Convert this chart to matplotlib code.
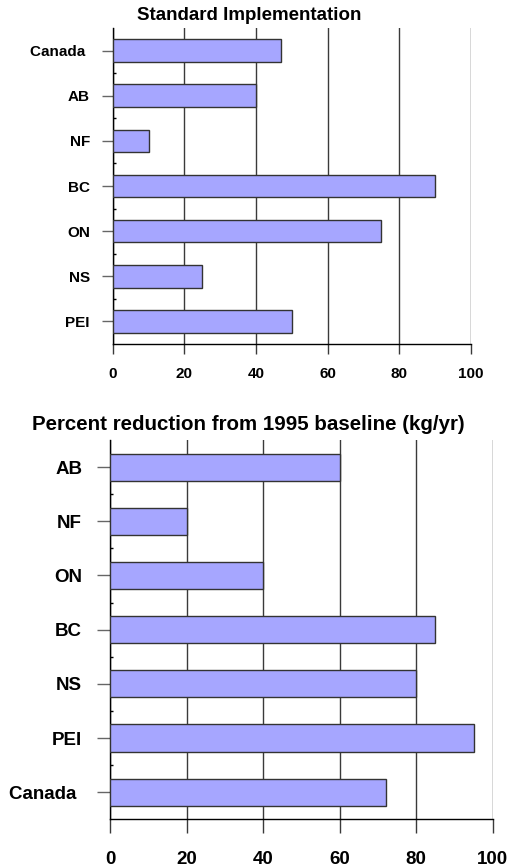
import matplotlib
matplotlib.use("Agg")
import matplotlib.pyplot as plt
import numpy as np

top_title = "Standard Implementation"
top_categories = ["Canada ", "AB", "NF", "BC", "ON", "NS", "PEI"]
top_values = [47, 40, 10, 90, 75, 25, 50]

bot_title = "Percent reduction from 1995 baseline (kg/yr)"
bot_categories = ["AB", "NF", "ON", "BC", "NS", "PEI", "Canada "]
bot_values = [60, 20, 40, 85, 80, 95, 72]

x_ticks = [0, 20, 40, 60, 80, 100]

plt.rcParams['font.family'] = ['Liberation Sans', 'DejaVu Sans']
plt.rcParams['font.weight'] = 'bold'

W, H = 509, 866
fig = plt.figure(figsize=(W / 100, H / 100), dpi=100)

BAR = '#a6a6ff'
EDGE = '#333333'
GRID = '#3a3a3a'


def draw(ax, cats, vals, fs_tick, xtick_len, xpad, ytick_len, ypad):
    y = np.arange(len(cats))
    ax.barh(y, vals, height=0.5, color=BAR, edgecolor=EDGE, linewidth=1.0, zorder=3)
    ax.set_ylim(len(cats) - 0.5, -0.5)
    ax.set_xlim(0, 100)
    ax.set_xticks(x_ticks)
    ax.set_xticklabels([str(t) for t in x_ticks], fontsize=fs_tick, fontweight='bold')
    ax.set_yticks(y)
    ax.set_yticklabels(cats, fontsize=fs_tick, fontweight='bold')
    ax.set_yticks(np.arange(len(cats) - 1) + 0.5, minor=True)
    ax.tick_params(axis='y', which='minor', direction='in', length=2, width=1, color='black')
    ax.tick_params(axis='y', which='major', direction='out', length=ytick_len, width=1,
                   color='#666666', pad=ypad)
    ax.tick_params(axis='x', which='major', direction='out', length=xtick_len, width=1,
                   color=GRID, pad=xpad)
    ax.grid(axis='x', color=GRID, linewidth=1.0, zorder=0)
    ax.set_axisbelow(True)
    for s in ['top', 'right']:
        ax.spines[s].set_visible(False)
    ax.spines['left'].set_color('black')
    ax.spines['bottom'].set_color('black')
    ax.spines['left'].set_linewidth(1)
    ax.spines['bottom'].set_linewidth(1)


ax1 = fig.add_axes([112.7 / W, 1 - 344 / H, (470.7 - 112.7) / W, (344 - 28) / H])
draw(ax1, top_categories, top_values, 11, 7.2, 9, 8, 8.5)
fig.text(249 / W, 1 - 16 / H, top_title, ha='center', va='center',
         fontsize=13.5, fontweight='bold')

ax2 = fig.add_axes([110 / W, 1 - 819.3 / H, (492.7 - 110) / W, (819.3 - 440) / H])
draw(ax2, bot_categories, bot_values, 13.5, 10, 12.5, 9.6, 10.5)
fig.text(248 / W, 1 - 424 / H, bot_title, ha='center', va='center',
         fontsize=14.8, fontweight='bold')

fig.savefig("out.png", dpi=100)
